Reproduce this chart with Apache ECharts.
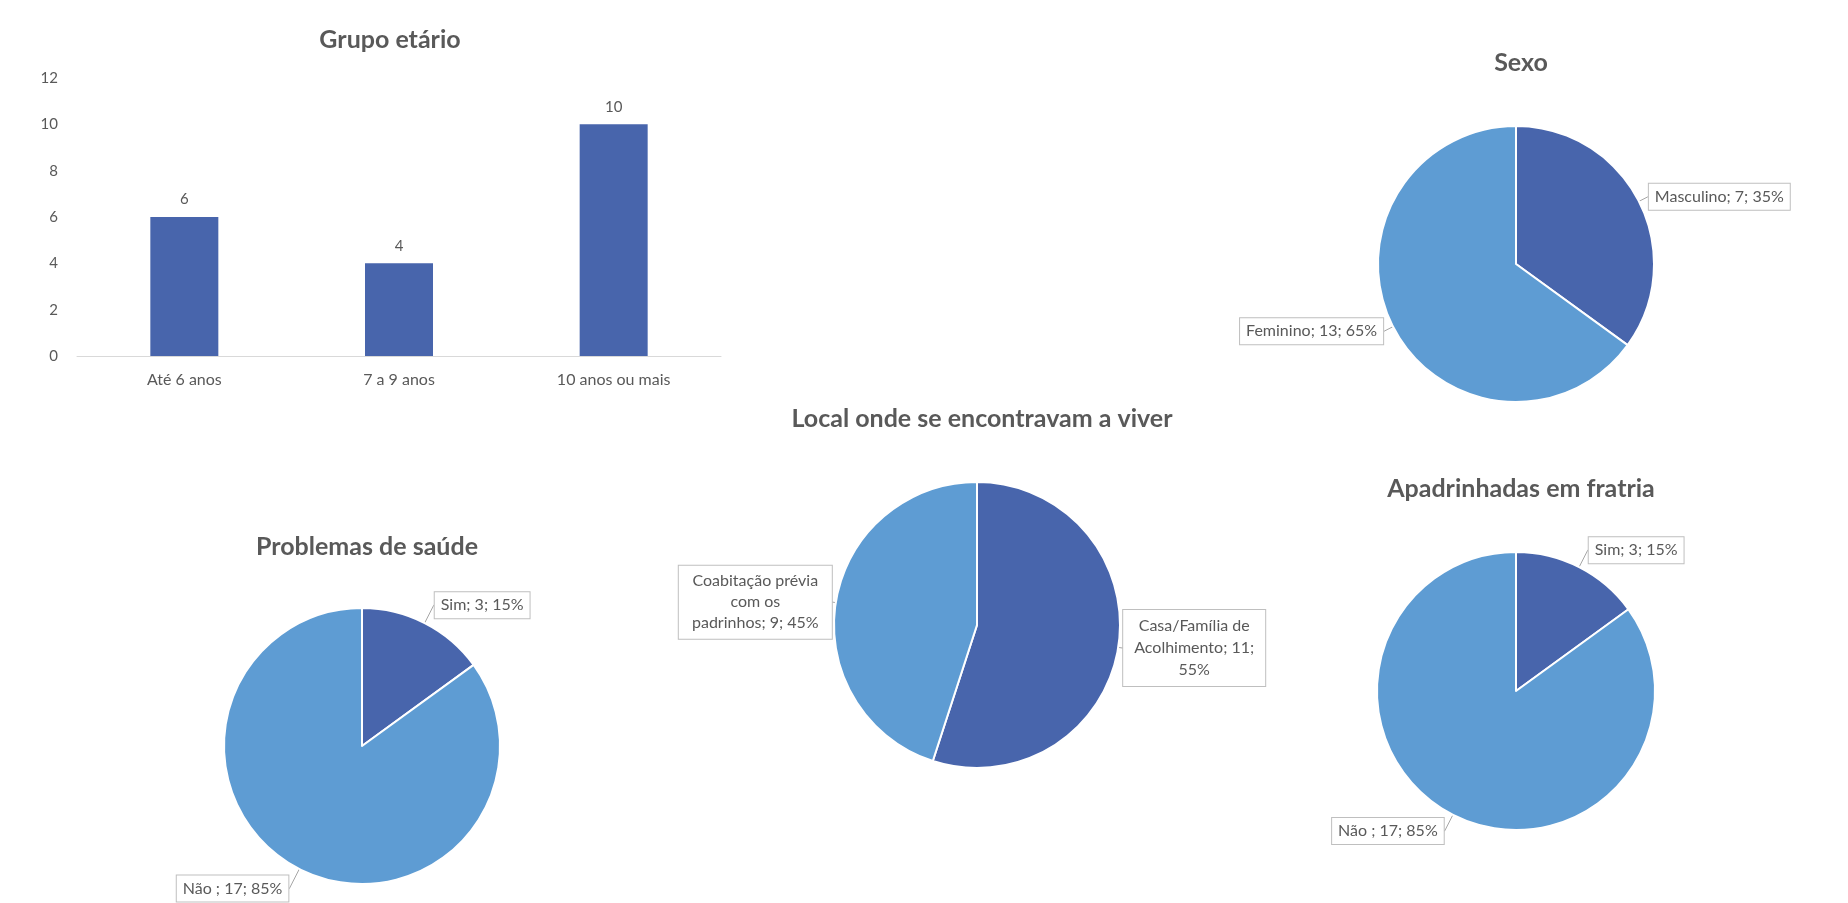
<!DOCTYPE html>
<html>
<head>
<meta charset="utf-8">
<script src="https://cdn.jsdelivr.net/npm/echarts@6/dist/echarts.min.js"></script>
<style>
  html, body { margin: 0; padding: 0; background: #ffffff; }
  #chart { width: 1848px; height: 903px; }
</style>
</head>
<body>
<div id="chart"></div>
<script>
// ---- Data ----
const ageCategories = ['Até 6 anos', '7 a 9 anos', '10 anos ou mais'];
const ageValues = [6, 4, 10];

const sexoNames = ['Masculino', 'Feminino'];
const sexoValues = [7, 13];

const localNames = ['Casa/Família de Acolhimento', 'Coabitação prévia com os padrinhos'];
const localValues = [11, 9];
const localLabelTemplates = ['Casa/Família de\nAcolhimento; {c};\n{d}%', 'Coabitação prévia\ncom os\npadrinhos; {c}; {d}%'];

const saudeNames = ['Sim', 'Não '];
const saudeValues = [3, 17];

const fratriaNames = ['Sim', 'Não '];
const fratriaValues = [3, 17];

const titles = ['Grupo etário', 'Sexo', 'Local onde se encontravam a viver', 'Problemas de saúde', 'Apadrinhadas em fratria'];

// ---- Styles ----
const DARK = '#4865AC';
const LIGHT = '#5E9CD3';
const TEXT = '#595959';
const FONT = 'Lato, "Open Sans", sans-serif';

const chart = echarts.init(document.getElementById('chart'), null, { renderer: 'canvas' });

function titleAt(text, x, y) {
  return {
    text: text, left: x, top: y, textAlign: 'center',
    textStyle: { fontFamily: FONT, fontSize: 25, fontWeight: 'bold', color: TEXT }
  };
}

const labelBox = {
  fontFamily: FONT, fontSize: 16, color: TEXT,
  backgroundColor: '#ffffff', borderColor: '#bfbfbf', borderWidth: 1,
  padding: [5, 6], distanceToLabelLine: 0
};

function pieData(names, values, lineLens) {
  return names.map((n, i) => ({
    name: n, value: values[i],
    itemStyle: { color: i === 0 ? DARK : LIGHT },
    labelLine: { length: lineLens[i], length2: 1 }
  }));
}

function pieSeries(names, values, center, radius, lineLens, extraLabel) {
  return {
    type: 'pie', center: center, radius: radius,
    startAngle: 90, clockwise: true, avoidLabelOverlap: false,
    itemStyle: { borderColor: '#ffffff', borderWidth: 2 },
    label: Object.assign({ show: true, position: 'outside', formatter: '{b}; {c}; {d}%' }, labelBox, extraLabel || {}),
    labelLine: { show: true, lineStyle: { color: '#a6a6a6', width: 1 } },
    emphasis: { disabled: true },
    data: pieData(names, values, lineLens)
  };
}

const option = {
  backgroundColor: '#ffffff',
  animation: false,
  title: [
    titleAt(titles[0], 385, 22),
    titleAt(titles[1], 1516, 45),
    titleAt(titles[2], 977, 401),
    titleAt(titles[3], 362, 529),
    titleAt(titles[4], 1516, 471)
  ],
  grid: { left: 77, top: 78, width: 644, height: 278, containLabel: false },
  xAxis: {
    type: 'category', data: ageCategories,
    axisLine: { lineStyle: { color: '#d9d9d9', width: 1 } },
    axisTick: { show: false },
    axisLabel: { fontFamily: FONT, fontSize: 16, color: TEXT, margin: 16 }
  },
  yAxis: {
    type: 'value', min: 0, max: 12, interval: 2,
    axisLine: { show: false }, axisTick: { show: false },
    splitLine: { show: false },
    axisLabel: { fontFamily: FONT, fontSize: 15, color: TEXT, margin: 19 }
  },
  series: [
    {
      type: 'bar', data: ageValues, barWidth: 68,
      itemStyle: { color: DARK },
      label: { show: true, position: 'top', distance: 10, fontFamily: FONT, fontSize: 15, color: TEXT },
      emphasis: { disabled: true }
    },
    pieSeries(sexoNames, sexoValues, [1516, 264], 138, [10, 10]),
    pieSeries(localNames, localValues, [977, 625], 143, [4, 3], {
      lineHeight: 22,
      formatter: function (p) {
        const t = localLabelTemplates[p.dataIndex].replace('{c}', p.value).replace('{d}', Math.round(p.percent));
        return t.split('\n').map(s => '{c' + p.dataIndex + '|' + s + '}').join('\n');
      },
      rich: {
        c0: { width: 130, align: 'center', fontFamily: FONT, fontSize: 16, color: TEXT, lineHeight: 22 },
        c1: { width: 141, align: 'center', fontFamily: FONT, fontSize: 16, color: TEXT, lineHeight: 21 }
      }
    }),
    pieSeries(saudeNames, saudeValues, [362, 746], 138, [20, 22]),
    pieSeries(fratriaNames, fratriaValues, [1516, 691], 139, [19, 18])
  ]
};

chart.setOption(option);
</script>
</body>
</html>
